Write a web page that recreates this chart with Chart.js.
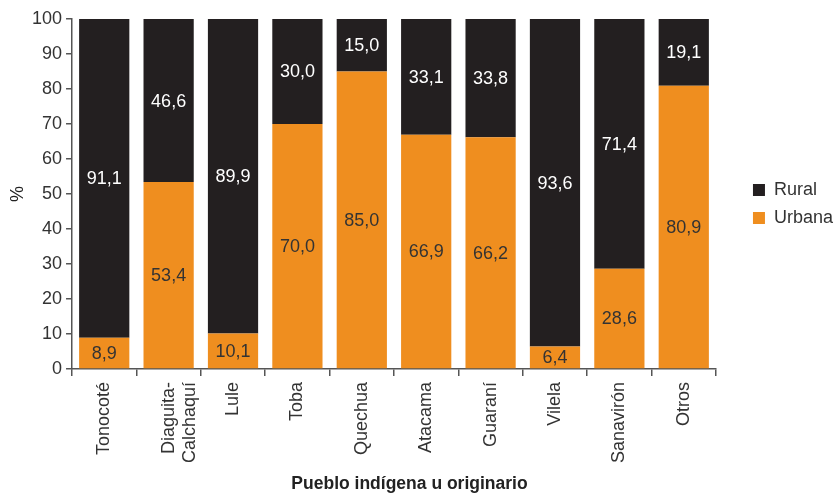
<!DOCTYPE html>
<html>
<head>
<meta charset="utf-8">
<script src="https://cdn.jsdelivr.net/npm/chart.js@4"></script>
<style>
html,body{margin:0;padding:0;background:#fff;}
#wrap{width:836px;height:494px;position:relative;}
</style>
</head>
<body>
<div id="wrap"><canvas id="c" width="836" height="494"></canvas></div>
<script>
const categories = ["Tonocoté", ["Diaguita-", "Calchaquí"], "Lule", "Toba", "Quechua", "Atacama", "Guaraní", "Vilela", "Sanavirón", "Otros"];
const urbana = [8.9, 53.4, 10.1, 70.0, 85.0, 66.9, 66.2, 6.4, 28.6, 80.9];
const rural = [91.1, 46.6, 89.9, 30.0, 15.0, 33.1, 33.8, 93.6, 71.4, 19.1];
const yTicks = [0, 10, 20, 30, 40, 50, 60, 70, 80, 90, 100];

const ORANGE = "#EF8E1F";
const BLACK = "#231F20";
const FONT = "'Liberation Sans', Arial, Helvetica, sans-serif";
const LEGEND_SHIFT = 27;

const labelPlugin = {
  id: "segLabels",
  afterDatasetsDraw(chart) {
    const ctx = chart.ctx;
    ctx.save();
    ctx.font = "18px " + FONT;
    ctx.textAlign = "center";
    ctx.textBaseline = "middle";
    chart.data.datasets.forEach((ds, di) => {
      const meta = chart.getDatasetMeta(di);
      meta.data.forEach((el, i) => {
        const p = el.getProps(["x", "y", "base"], true);
        const v = ds.data[i];
        ctx.fillStyle = ds.labelColor;
        ctx.fillText(v.toFixed(1).replace(".", ","), p.x, (p.y + p.base) / 2 + 1);
      });
    });
    ctx.restore();
  }
};

const legendShift = {
  id: "legendShift",
  afterLayout(chart) {
    if (chart.legend) {
      chart.legend.left += LEGEND_SHIFT;
      chart.legend.right += LEGEND_SHIFT;
    }
  }
};

new Chart(document.getElementById("c"), {
  type: "bar",
  data: {
    labels: categories,
    datasets: [
      { label: "Urbana", data: urbana, backgroundColor: ORANGE, labelColor: "#333333", barPercentage: 0.78, categoryPercentage: 1.0 },
      { label: "Rural", data: rural, backgroundColor: BLACK, labelColor: "#ffffff", barPercentage: 0.78, categoryPercentage: 1.0 }
    ]
  },
  options: {
    responsive: false,
    animation: false,
    layout: { padding: { top: 19, left: 3, right: 20, bottom: 0 } },
    plugins: {
      legend: {
        position: "right",
        reverse: true,
        fullSize: false,
        title: { display: true, text: " ", font: { size: 10 }, padding: 4 },
        labels: { boxWidth: 12, boxHeight: 12, padding: 10, color: "#333333", font: { family: FONT, size: 18 } }
      },
      title: {
        display: true,
        position: "bottom",
        text: "Pueblo indígena u originario",
        color: "#222222",
        font: { family: FONT, size: 17.5, weight: "bold" },
        padding: { top: 5, bottom: -1 }
      },
      tooltip: { enabled: false }
    },
    scales: {
      x: {
        stacked: true,
        border: { color: "#555555", width: 1.5 },
        grid: { display: true, drawOnChartArea: false, offset: true, tickLength: 7, color: "#555555", lineWidth: 1.5 },
        ticks: { color: "#333333", font: { family: FONT, size: 18 }, minRotation: 90, maxRotation: 90, padding: 6 }
      },
      y: {
        stacked: true,
        min: 0,
        max: 100,
        afterBuildTicks(scale) { scale.ticks = yTicks.map(v => ({ value: v })); },
        border: { color: "#555555", width: 1.5 },
        grid: { display: true, drawOnChartArea: false, tickLength: 6, color: "#555555", lineWidth: 1.5 },
        ticks: { color: "#333333", font: { family: FONT, size: 18 }, padding: 4 },
        title: { display: true, text: "%", color: "#222222", font: { family: FONT, size: 18, lineHeight: 1 }, padding: { top: 6.5, bottom: 0.5 } }
      }
    }
  },
  plugins: [labelPlugin, legendShift]
});
</script>
</body>
</html>
